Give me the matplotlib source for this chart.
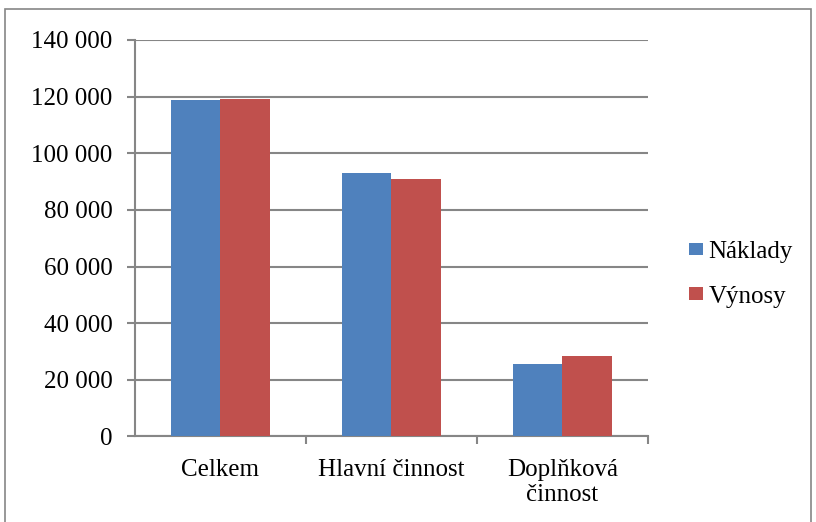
import numpy as np
import matplotlib.pyplot as plt
from matplotlib.patches import Rectangle

categories = ['Celkem', 'Hlavní činnost', 'Doplňková\nčinnost']
naklady = [118900, 93100, 25700]
vynosy = [119200, 91000, 28400]
yticks = [0, 20000, 40000, 60000, 80000, 100000, 120000, 140000]

plt.rcParams['font.family'] = ['Liberation Serif', 'DejaVu Serif']
grey = '#868686'
fs = 18

fig = plt.figure(figsize=(8.16, 5.22), dpi=100)
ax = fig.add_axes([0.1654, 0.1638, 0.6287, 0.7596])

x = np.arange(len(categories))
w = 0.287
ax.bar(x - w / 2, naklady, w, color='#4F81BD', label='Náklady', zorder=3)
ax.bar(x + w / 2, vynosy, w, color='#C0504D', label='Výnosy', zorder=3)

ax.set_xlim(-0.5, 2.5)
ax.set_ylim(0, 140000)
ax.set_yticks(yticks)
ax.set_yticklabels([f'{v:,}'.replace(',', ' ') for v in yticks], fontsize=fs)
ax.yaxis.grid(True, color=grey, linewidth=1.5, zorder=0)

# category labels in the middle, tick marks on the boundaries
ax.set_xticks(x)
ax.set_xticklabels(categories, fontsize=fs, linespacing=1.2)
ax.tick_params(axis='x', length=0, pad=16)
ax.set_xticks([0.5, 1.5, 2.5], minor=True)
ax.tick_params(axis='x', which='minor', length=6, color=grey, width=1.5)
ax.tick_params(axis='y', length=6, color=grey, width=1.5, pad=10)

for s in ['top', 'right']:
    ax.spines[s].set_visible(False)
for s in ['left', 'bottom']:
    ax.spines[s].set_color(grey)
    ax.spines[s].set_linewidth(1.5)

ax.legend(loc='center left', bbox_to_anchor=(1.037, 0.409), frameon=False,
          fontsize=fs, handlelength=0.56, handleheight=0.4, handletextpad=0.2,
          labelspacing=0.9)

fig.add_artist(Rectangle((0.006, -0.05), 0.988, 1.033, transform=fig.transFigure,
                         fill=False, edgecolor=grey, linewidth=1.2))

fig.savefig('out.png', dpi=100, facecolor='white')
